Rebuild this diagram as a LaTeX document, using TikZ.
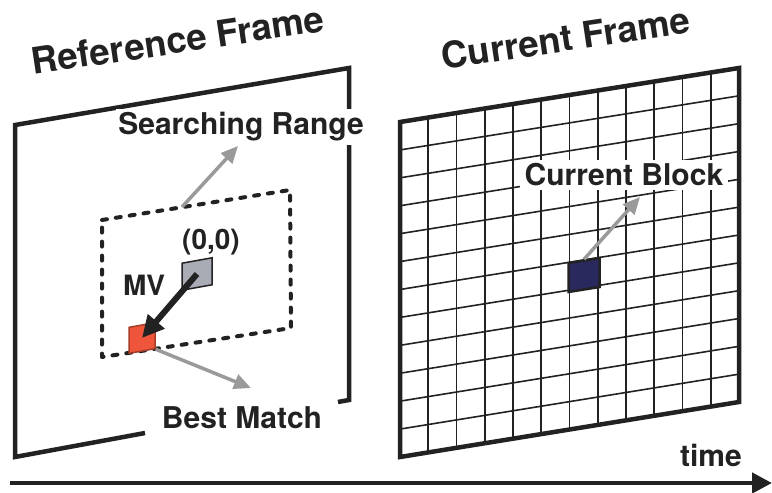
\documentclass[tikz,border=0pt]{standalone}
\usepackage{fontspec}
\setmainfont{TeX Gyre Heros}
\usetikzlibrary{arrows.meta,calc}
\definecolor{arrgray}{HTML}{9A9A9A}
\definecolor{origgray}{HTML}{A9ABB5}
\definecolor{bestred}{HTML}{EE553B}
\definecolor{blknavy}{HTML}{29295E}
\definecolor{ink}{HTML}{222222}
\begin{document}
\begin{tikzpicture}[x=1pt,y=-1pt,
  framestyle/.style={draw=ink, line width=4.5pt, line join=miter},
  gridline/.style={draw=ink, line width=1.6pt},
  lbl/.style={font=\bfseries\fontsize{30}{34}\selectfont, text=ink, inner sep=2pt},
  smalllbl/.style={font=\bfseries\fontsize{28}{32}\selectfont, text=ink, inner sep=2pt},
  ttl/.style={font=\bfseries\fontsize{36.5}{40}\selectfont, text=ink, rotate=8.5, inner sep=0pt},
  grayarrow/.style={draw=arrgray, line width=3.5pt, -{Triangle[length=17pt,width=15pt]}},
  blackarrow/.style={draw=ink, line width=6pt, -{Triangle[length=22pt,width=21pt]}},
  timearrow/.style={draw=ink, line width=4.5pt, -{Triangle[length=20pt,width=20pt]}},
  searchbox/.style={draw=ink, line width=4pt, dash pattern=on 5pt off 9pt, line cap=round, line join=round},
  blockbox/.style={draw=ink, line width=1.5pt, yslant=0.18, inner sep=0pt}
]
\useasboundingbox (0,0) rectangle (772,493);

% ---------- titles ----------
\node[ttl] (refTitle) at (178,40) {Reference Frame};
\node[ttl] (curTitle) at (566,38) {Current Frame};

% ---------- reference frame ----------
\draw[framestyle] (145,433) -- (15,457) -- (15,125) -- (349,68) -- (349,400) -- (338,402);

% searching range (dashed)
\draw[searchbox] (102,220) -- (290,190) -- (291,328) -- (102,357) -- cycle;

\node[lbl, fill=white, inner ysep=4pt] (srLabel) at (241,127) {Searching Range};
\coordinate (srFoot) at (182,207);
\coordinate (srTip) at (238,146);
\draw[grayarrow] (srFoot) -- (srTip);

% blocks
\node[blockbox, fill=origgray, minimum width=30pt, minimum height=27pt] (origin) at (197,274) {};
\node[blockbox, fill=bestred, minimum width=26pt, minimum height=26pt, draw=bestred!70!black] (best) at (142,338) {};

\node[lbl] (bmLabel) at (242,418) {Best Match};
\coordinate (bmTip) at (251,388);
\draw[grayarrow] (best.south east) -- (bmTip);

\node[smalllbl] (zeroLabel) at (211,242) {(0,0)};
\node[smalllbl] (mvLabel) at (144,285) {MV};

\draw[blackarrow] (origin.center) -- (best.center);

% ---------- current frame ----------
\foreach \i in {1,...,11} {
  \draw[gridline] ($(400,122)!\i/12!(739,68)$) -- ($(400,457)!\i/12!(739,402)$);
  \draw[gridline] ($(400,122)!\i/12!(400,457)$) -- ($(739,68)!\i/12!(739,402)$);
}
\draw[framestyle] (400,122) -- (739,68) -- (739,402) -- (400,457) -- cycle;

\node[blockbox, fill=blknavy, line width=2.5pt, yslant=-0.02, minimum width=31pt, minimum height=29pt] (blk) at (584,275) {};

\node[lbl, fill=white, inner xsep=5pt, inner ysep=4pt] (cbLabel) at (624,175) {Current Block};
\coordinate (cbTip) at (640,197);
\draw[grayarrow] (blk.north) -- (cbTip);

% ---------- time axis ----------
\node[lbl] (timeLabel) at (711,455) {time};
\coordinate (tStart) at (10,483);
\coordinate (tEnd) at (772,483);
\draw[timearrow] (tStart) -- (tEnd);
\end{tikzpicture}
\end{document}
